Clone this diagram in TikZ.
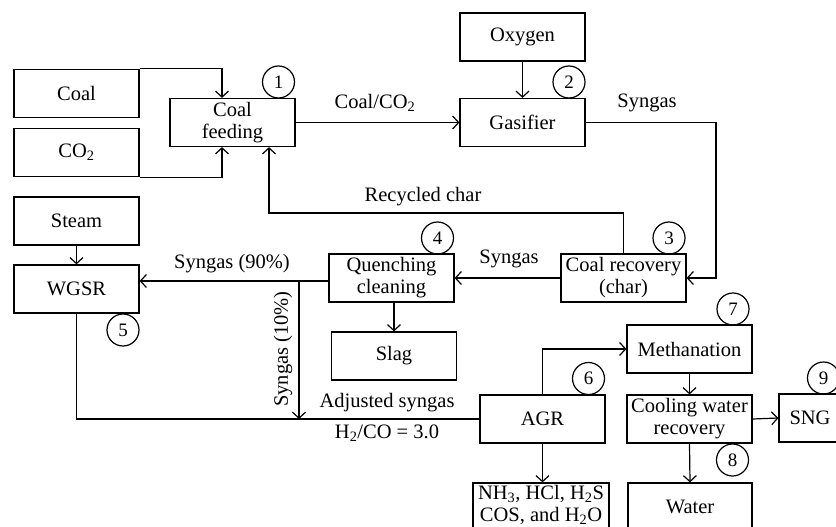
\documentclass[tikz,border=0pt]{standalone}
\usepackage{fontspec}
\setmainfont{Liberation Serif}
\usetikzlibrary{arrows.meta}
\newcommand\sbs[1]{\textsubscript{#1}}
\begin{document}
\begin{tikzpicture}[x=1pt,y=-1pt,
  line width=1.2pt,
  box/.style={draw,rectangle,minimum width=125pt,minimum height=48pt,inner sep=1pt,align=center,font=\fontsize{20.5}{22}\selectfont},
  num/.style={draw,circle,minimum size=32pt,inner sep=0pt,font=\fontsize{19}{20}\selectfont},
  lbl/.style={font=\fontsize{20.5}{22}\selectfont,inner sep=0pt},
  arr/.style={-{Straight Barb[length=6pt,width=13pt]}}]
\clip (0,0) rectangle (836,527);
\node[box] (coal) at (76.5,93.5) {Coal};
\node[box] (co2) at (76.5,152.5) {CO\sbs{2}};
\node[box] (feed) at (232.5,122.5) {Coal\\feeding};
\node[box] (oxy) at (522.5,37) {Oxygen};
\node[box] (gas) at (522.5,122.5) {Gasifier};
\node[box] (rec) at (623.5,278) {Coal recovery\\(char)};
\node[box] (quench) at (391.5,278) {Quenching\\cleaning};
\node[box] (steam) at (76.5,221) {Steam};
\node[box] (wgsr) at (76.5,289) {WGSR};
\node[box] (slag) at (394,356) {Slag};
\node[box] (agr) at (542.5,419) {AGR};
\node[box] (meth) at (689.5,349) {Methanation};
\node[box] (cool) at (689.5,419) {Cooling water\\recovery};
\node[box,minimum width=62pt] (sng) at (810,418) {SNG};
\node[box,minimum width=136pt,text depth=8pt] (nh3) at (541,507) {NH\sbs{3}, HCl, H\sbs{2}S\\COS, and H\sbs{2}O};
\node[box,minimum width=124pt] (water) at (690,507) {Water};

\node[num] (n1) at (278.5,82) {1};
\node[num] (n2) at (569,82) {2};
\node[num] (n3) at (669,238) {3};
\node[num] (n4) at (437.5,238) {4};
\node[num] (n5) at (123,330) {5};
\node[num] (n6) at (588.5,378.5) {6};
\node[num] (n7) at (733,309) {7};
\node[num] (n8) at (732.5,460) {8};
\node[num] (n9) at (823.5,378) {9};

\coordinate (sg) at (716,122.5);
\coordinate (rc) at (269,213);
\coordinate (br) at (299,281);
\coordinate (jn) at (299,419);

\draw[arr] (coal.north east) -| ([xshift=-10.5pt]feed.north);
\draw[arr] (co2.south east) -| ([xshift=-10.5pt]feed.south);
\draw[arr] (feed.east) -- (gas.west);
\draw[arr] (oxy) -- (gas);
\draw[arr] (gas.east) -- (sg) |- (rec.east);
\draw[arr] (rec.north) |- (rc) -- (rc |- feed.south);
\draw[arr] (rec.west) -- (quench.east);
\draw[arr] (steam) -- (wgsr);
\draw[arr] (br -| quench.west) -- (br -| wgsr.east);
\draw[arr] (br) -- (jn);
\draw[arr] (quench.south -| slag.north) -- (slag.north);
\draw (wgsr.south) |- (agr.west);
\draw[arr] (agr.north) |- (meth.west);
\draw[arr] (meth.south) -- (cool.north);
\draw[arr] (cool.east) -- (sng.west);
\draw[arr] (cool.south) -- (water.north);
\draw[arr] (agr.south) -- (agr.south |- nh3.north);

\node[lbl] (l1) at (375,103) {Coal/CO\sbs{2}};
\node[lbl] (l2) at (647,103) {Syngas};
\node[lbl] (l3) at (423,197) {Recycled char};
\node[lbl] (l4) at (509,259) {Syngas};
\node[lbl] (l5) at (232,264) {Syngas (90\%)};
\node[lbl,rotate=90] (l6) at (283,349) {Syngas (10\%)};
\node[lbl] (l7) at (387,403) {Adjusted syngas};
\node[lbl] (l8) at (387,433) {H\sbs{2}/CO = 3.0};
\end{tikzpicture}
\end{document}
